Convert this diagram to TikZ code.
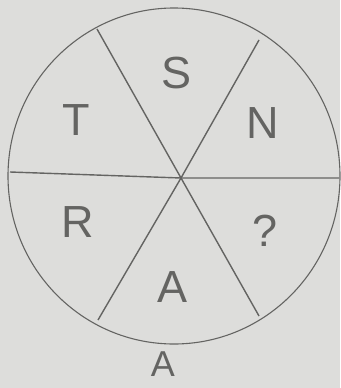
\documentclass[tikz,border=0pt]{standalone}
\usepackage{fontspec}
\setmainfont{Liberation Sans}
\usetikzlibrary{positioning}
\definecolor{paper}{RGB}{221, 221, 219}
\definecolor{pencil}{RGB}{100, 100, 98}

\begin{document}
\begin{tikzpicture}[
    x=1pt, y=-1pt,
    rim/.style={draw=pencil, line width=1.1pt},
    spoke/.style={draw=pencil, line width=1.4pt},
    letter/.style={text=pencil, font=\fontsize{45}{45}\selectfont, inner sep=0pt, anchor=center}
]

  % paper
  \fill[paper] (0, 0) rectangle (340, 388);
  \useasboundingbox (0, 0) rectangle (340, 388);

  % wheel
  \node[draw=none, inner sep=0pt] (hub) at (181, 178) {};
  \draw[rim] (174, 176) ellipse [x radius=166, y radius=168];

  % spoke ends
  \coordinate (w) at (10, 172);
  \coordinate (e) at (339, 178);
  \coordinate (nw) at (97, 29);
  \coordinate (se) at (259, 316);
  \coordinate (ne) at (259, 40);
  \coordinate (sw) at (98, 320);

  % spokes
  \draw[spoke] (w) -- (hub.center) -- (e);
  \draw[spoke] (nw) -- (hub.center) -- (se);
  \draw[spoke] (ne) -- (hub.center) -- (sw);

  % letters
  \node[letter] (s) at (177, 73) {S};
  \node[letter] (n) at (263, 123) {N};
  \node[letter] (t) at (76, 120) {T};
  \node[letter] (r) at (78, 222) {R};
  \node[letter] (q) at (265, 231) {?};
  \node[letter] (a) at (173, 287) {A};
  \node[letter, font=\fontsize{36}{36}\selectfont] (a2) at (163, 364) {A};
\end{tikzpicture}
\end{document}
